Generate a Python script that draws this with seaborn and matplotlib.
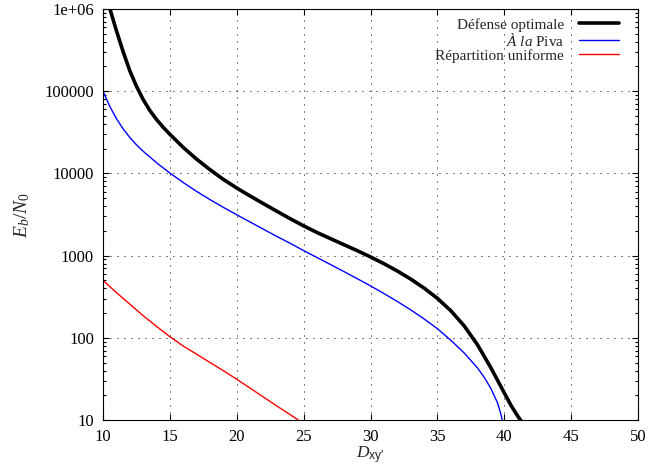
import matplotlib
matplotlib.use("Agg")
import matplotlib.pyplot as plt
import seaborn as sns
from matplotlib.ticker import FixedLocator, FixedFormatter, LogLocator, NullFormatter, NullLocator

# Eb/N0 required versus D_xy' for three energy allocation strategies
d_optimal = [10.52, 11, 11.5, 12, 12.5, 13, 13.5, 14, 14.5, 15, 16, 17, 18, 19,
             20, 21, 22, 23, 24, 25, 26, 27, 28, 29, 30, 31, 32, 33, 34, 35, 36,
             37, 38, 39, 40, 40.5, 41, 41.25]
eb_optimal = [1000000, 547000, 304000, 178000, 115000, 79300, 58300, 45300,
              36400, 29900, 20700, 14900, 11100, 8450, 6640, 5310, 4280, 3460,
              2810, 2300, 1910, 1610, 1360, 1150, 964, 798, 650, 519, 403, 302,
              214, 140, 82.2, 43.2, 21.4, 15.1, 11.2, 9.8]

d_piva = [10, 10.5, 11, 11.5, 12, 12.5, 13, 14, 15, 16, 17, 18, 19, 20, 21, 22,
          23, 24, 25, 26, 27, 28, 29, 30, 31, 32, 33, 34, 35, 36, 37, 38, 38.5,
          39, 39.5, 39.7, 39.85]
eb_piva = [100000, 65700, 46500, 34900, 27400, 22300, 18600, 13500, 10100, 7740,
           6040, 4800, 3860, 3140, 2560, 2090, 1710, 1410, 1150, 948, 780, 641,
           525, 428, 346, 277, 219, 170, 129, 93.5, 65.5, 43.0, 33.1, 24.2, 16.1,
           12.6, 10]

d_uniform = [10, 11, 12, 13, 14, 15, 16, 17, 18, 19, 20, 21, 22, 23, 24, 24.6]
eb_uniform = [500, 355, 257, 186, 138, 103, 79.4, 63.1, 50.1, 39.8, 31.3, 24.4,
              19.0, 14.8, 11.6, 10]

series_labels = ["Défense optimale", r"$\mathit{À\ la}$ Piva", "Répartition uniforme"]
x_ticks = [10, 15, 20, 25, 30, 35, 40, 45, 50]
y_ticks = [10, 100, 1000, 10000, 100000, 1000000]
y_tick_labels = ["10", "100", "1000", "10000", "100000", "1e+06"]

sns.set_theme(style="ticks")
plt.rcParams.update({
    "font.family": ["Liberation Serif", "DejaVu Serif"],
    "mathtext.fontset": "custom",
    "mathtext.rm": "Liberation Serif",
    "mathtext.it": "Liberation Serif:italic",
    "mathtext.sf": "Liberation Sans",
    "axes.edgecolor": "black",
    "xtick.color": "black",
    "ytick.color": "black",
})

fig = plt.figure(figsize=(6.48, 4.65), dpi=100)
ax = fig.add_axes([103 / 648, 45 / 465, 535 / 648, 411 / 465])

line_kw = dict(estimator=None, sort=False, solid_joinstyle="round")
sns.lineplot(x=d_optimal, y=eb_optimal, ax=ax, color="black", linewidth=2.6,
             label=series_labels[0], **line_kw)
sns.lineplot(x=d_piva, y=eb_piva, ax=ax, color="#0000ff", linewidth=1.0,
             label=series_labels[1], **line_kw)
sns.lineplot(x=d_uniform, y=eb_uniform, ax=ax, color="#ff0000", linewidth=1.0,
             label=series_labels[2], **line_kw)

ax.set_yscale("log")
ax.set_xlim(10, 50)
ax.set_ylim(10, 1e6)

ax.xaxis.set_major_locator(FixedLocator(x_ticks))
ax.xaxis.set_minor_locator(NullLocator())
ax.yaxis.set_major_locator(FixedLocator(y_ticks))
ax.yaxis.set_major_formatter(FixedFormatter(y_tick_labels))
ax.yaxis.set_minor_locator(LogLocator(base=10, subs=range(2, 10)))
ax.yaxis.set_minor_formatter(NullFormatter())

ax.grid(True, which="major", color="black", linestyle=(0, (1, 6)), linewidth=0.72)
ax.set_axisbelow(True)

ax.tick_params(which="both", direction="in", top=True, right=True, width=0.8)
ax.tick_params(which="major", length=4, pad=6.5, labelsize=12)
ax.tick_params(which="minor", length=2.5)
for s in ax.spines.values():
    s.set_linewidth(0.8)
    s.set_color("black")

ax.set_xlabel(r"$D_{\mathsf{xy′}}$", fontsize=12.5, labelpad=0)
ax.set_ylabel(r"$E_b/N_0$", fontsize=14, labelpad=9)

ax.legend(loc="upper right", bbox_to_anchor=(0.9645, 0.978), frameon=False,
          markerfirst=False, fontsize=11, handlelength=2.6, handletextpad=1.0,
          labelspacing=0.0, borderpad=0, borderaxespad=0)

fig.savefig("out.png", dpi=100)
